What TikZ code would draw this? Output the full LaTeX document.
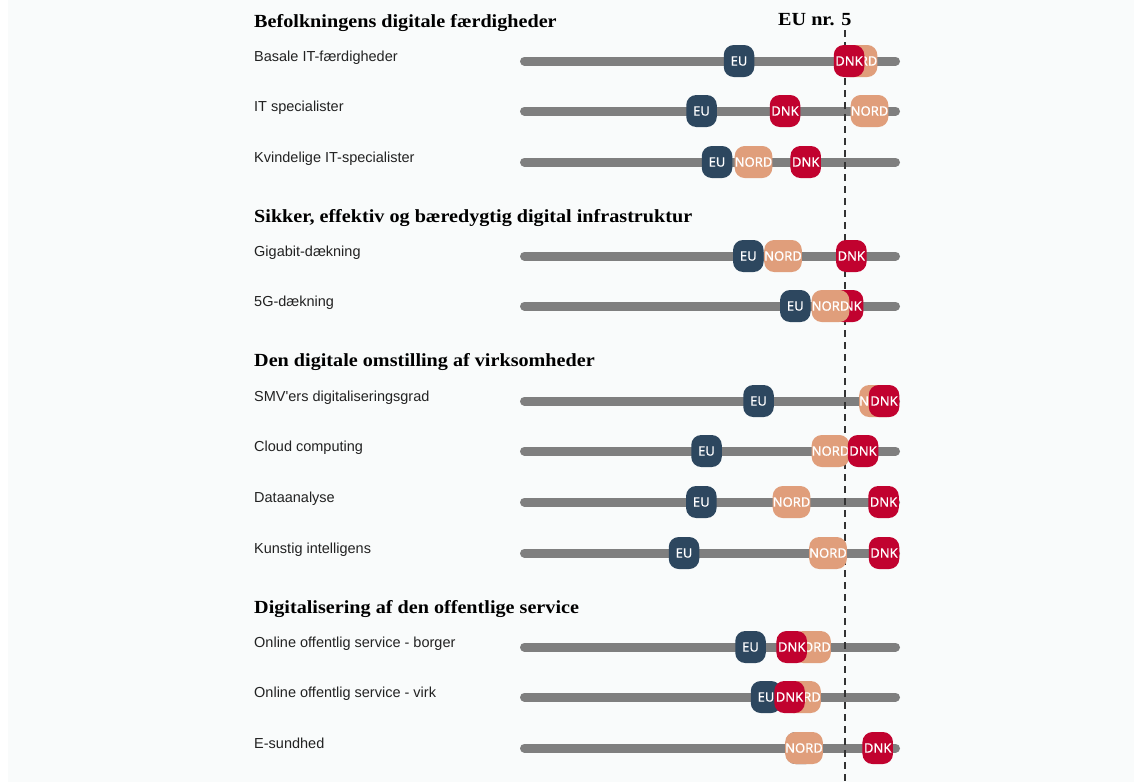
\documentclass[tikz,border=0pt]{standalone}
\usepackage{fontspec}
\setmainfont{Liberation Sans}
\newfontfamily\headfont[FakeStretch=1.09]{Liberation Serif}
\newfontfamily\markfont[FakeBold=0.7]{Noto Sans}
\definecolor{bgc}{HTML}{F9FBFB}
\definecolor{barc}{HTML}{7F7F7F}
\definecolor{euc}{HTML}{2D475F}
\definecolor{dnkc}{HTML}{C1022F}
\definecolor{nordc}{HTML}{E09E7B}
\definecolor{txtc}{HTML}{222222}
\begin{document}
\begin{tikzpicture}[x=1pt,y=-1pt,
  headtxt/.style={anchor=base west,inner sep=0pt,font=\headfont\bfseries\fontsize{18.5}{20}\selectfont,text=black},
  labtxt/.style={anchor=base west,inner sep=0pt,font=\fontsize{14.5}{16}\selectfont,text=txtc},
  barline/.style={line width=9pt,line cap=round,draw=barc},
  marker/.style={rectangle,rounded corners=10pt,minimum width=30.5pt,minimum height=32pt,inner sep=0pt,text=white,font=\markfont\fontsize{13}{13}\selectfont},
  eum/.style={marker,fill=euc},
  dnkm/.style={marker,fill=dnkc},
  nordm/.style={marker,fill=nordc},
  refline/.style={line width=1.6pt,draw=black!80,dash pattern=on 7pt off 5pt}]
\useasboundingbox (0,0) rectangle (1134,782);
\fill[bgc] (0,0) rectangle (1134,782);
\fill[white] (0,0) rectangle (8,782);
% headings
\node[headtxt] (h1) at (254,27) {Befolkningens digitale færdigheder};
\node[headtxt] (h2) at (254,222) {Sikker, effektiv og bæredygtig digital infrastruktur};
\node[headtxt] (h3) at (254,366) {Den digitale omstilling af virksomheder};
\node[headtxt] (h4) at (254,613) {Digitalisering af den offentlige service};
\node[headtxt] (eunr) at (778,25) {EU nr. 5};
% rows: labels and bars
\foreach \i/\y/\lab in {1/61/Basale IT-færdigheder,2/111/IT specialister,3/162/Kvindelige IT-specialister,
  4/256/Gigabit-dækning,5/306/5G-dækning,6/401/SMV\textquotesingle ers digitaliseringsgrad,7/451/Cloud computing,
  8/502/Dataanalyse,9/553/Kunstig intelligens,10/647/Online offentlig service - borger,
  11/697/Online offentlig service - virk,12/748/E-sundhed}{
  \node[labtxt] (lab\i) at (254,\y) {\lab};
  \coordinate (bl\i) at (524.5,\y);
  \coordinate (br\i) at (895.5,\y);
  \draw[barline] (bl\i) -- (br\i);
}
% reference line
\coordinate (dtop) at (845,30);
\coordinate (dbot) at (845,782);
\draw[refline] (dtop) -- (dbot);
% markers
\node[eum] (eu1) at (739,61) {EU};
\node[nordm] (nord1) at (858.5,61) {NORD};
\node[dnkm] (dnk1) at (849,61) {DNK};
\node[eum] (eu2) at (701.5,111) {EU};
\node[nordm] (nord2) at (869.5,111) {NORD};
\node[dnkm] (dnk2) at (785,111) {DNK};
\node[eum] (eu3) at (717,162) {EU};
\node[nordm] (nord3) at (753.5,162) {NORD};
\node[dnkm] (dnk3) at (805.7,162) {DNK};
\node[eum] (eu4) at (748.3,256) {EU};
\node[nordm] (nord4) at (783,256) {NORD};
\node[dnkm] (dnk4) at (851.3,256) {DNK};
\node[eum] (eu5) at (795.3,306) {EU};
\node[dnkm] (dnk5) at (848,306) {DNK};
\node[nordm] (nord5) at (830.5,306) {NORD};
\node[eum] (eu6) at (758.5,401) {EU};
\node[nordm] (nord6) at (878,401) {NORD};
\node[dnkm] (dnk6) at (884,401) {DNK};
\node[eum] (eu7) at (706.5,451) {EU};
\node[nordm] (nord7) at (830.5,451) {NORD};
\node[dnkm] (dnk7) at (863,451) {DNK};
\node[eum] (eu8) at (701.3,502) {EU};
\node[nordm] (nord8) at (791.5,502) {NORD};
\node[dnkm] (dnk8) at (883.5,502) {DNK};
\node[eum] (eu9) at (684,553) {EU};
\node[nordm] (nord9) at (828,553) {NORD};
\node[dnkm] (dnk9) at (884,553) {DNK};
\node[eum] (eu10) at (750.5,647) {EU};
\node[nordm] (nord10) at (812,647) {NORD};
\node[dnkm] (dnk10) at (791.7,647) {DNK};
\node[eum] (eu11) at (766,697) {EU};
\node[nordm] (nord11) at (802,697) {NORD};
\node[dnkm] (dnk11) at (789.5,697) {DNK};
\node[eum] (eu12) at (801,748) {EU};
\node[nordm] (nord12) at (804,748) {NORD};
\node[dnkm] (dnk12) at (877.7,748) {DNK};
\end{tikzpicture}
\end{document}
